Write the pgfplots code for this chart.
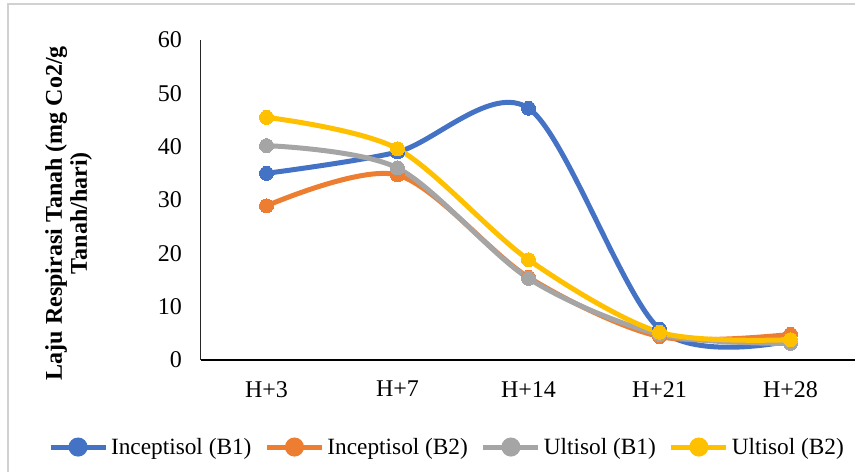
\documentclass[border=0pt]{standalone}
\usepackage{fontspec}
\setmainfont{Liberation Serif}
\usepackage{pgfplots}
\pgfplotsset{compat=1.18}

\definecolor{cBlue}{HTML}{4472C4}
\definecolor{cOrange}{HTML}{ED7D31}
\definecolor{cGray}{HTML}{A5A5A5}
\definecolor{cYellow}{HTML}{FFC000}

% Soil respiration rate per sampling day
\pgfplotstableread{
x  incB1 incB2 ultB1 ultB2
0  35.0  28.9  40.2  45.5
1  39.0  34.7  36.0  39.6
2  47.2  15.5  15.3  18.8
3   5.8   4.4   4.8   5.2
4   3.6   4.8   3.1   3.8
}\resp

\pgfplotsset{
  series/.style={
    color=#1, line width=5bp, smooth, mark=*, mark size=7bp,
    mark options={solid, fill=#1, draw=#1, line width=0pt},
    legend image code/.code={
      \draw[#1, line width=5bp] (0bp,0bp) -- (55bp,0bp);
      \fill[#1] (27.5bp,0bp) circle (7bp);
    }
  }
}

\begin{document}
\begin{tikzpicture}
\begin{axis}[
  name=ax,
  scale only axis, width=655bp, height=320bp,
  xmin=-0.5, xmax=4.5, ymin=0, ymax=60,
  xtick={0,1,2,3,4},
  xticklabels={H+3, H+7, H+14, H+21, H+28},
  ytick={0,10,20,30,40,50,60},
  axis x line*=bottom, axis y line*=left,
  x axis line style={black, line width=1.6bp, -},
  y axis line style={black!85, line width=1bp, -},
  major tick length=0pt,
  tick label style={font=\fontsize{24bp}{28bp}\selectfont, inner sep=0pt},
  xticklabel style={anchor=north, yshift=-21bp},
  yticklabel style={anchor=east, xshift=-19bp},
  /pgf/number format/assume math mode=true,
  ylabel={Laju Respirasi Tanah (mg Co2/g\\Tanah/hari)},
  ylabel style={at={(axis description cs:-0.202,0.459)}, anchor=center,
    align=center, font=\fontsize{24bp}{25bp}\selectfont\bfseries},
  legend columns=4,
  legend style={at={(0.374,-0.272)}, anchor=center, draw=none, fill=none,
    font=\fontsize{23.3bp}{28bp}\selectfont,
    nodes={inner sep=0pt},
    /tikz/every odd column/.append style={column sep=3bp},
    /tikz/every even column/.append style={column sep=13bp}},
  clip=false,
]
\addplot[series=cBlue]   table[x=x, y=incB1] {\resp};
\addlegendentry{Inceptisol (B1)}
\addplot[series=cOrange] table[x=x, y=incB2] {\resp};
\addlegendentry{Inceptisol (B2)}
\addplot[series=cGray]   table[x=x, y=ultB1] {\resp};
\addlegendentry{Ultisol (B1)}
\addplot[series=cYellow] table[x=x, y=ultB2] {\resp};
\addlegendentry{Ultisol (B2)}
\end{axis}
% chart frame and page extent, measured from the plot area's lower left corner
\begin{scope}[shift={(ax.south west)}, x=1bp, y=1bp]
  \draw[black!18, line width=1.2bp] (-193,-112) -- (-193,356) -- (654,356);
  \pgfresetboundingbox
  \path[use as bounding box] (-201,-112) rectangle (654,360);
\end{scope}
\end{tikzpicture}
\end{document}
